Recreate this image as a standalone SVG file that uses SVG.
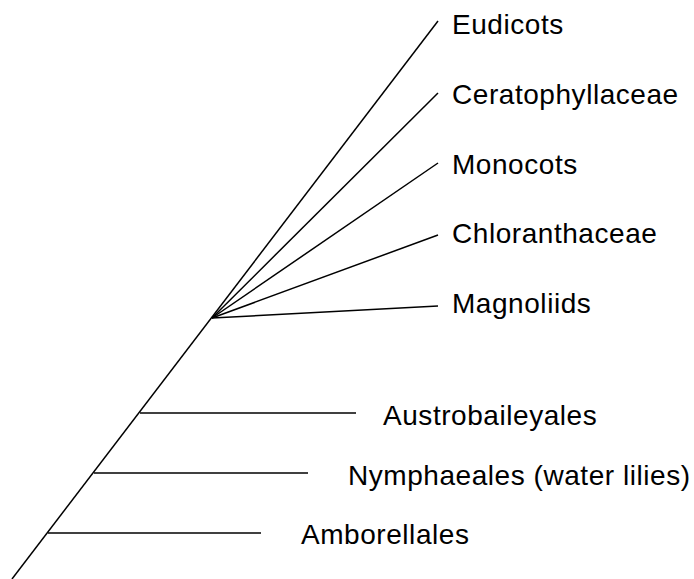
<svg xmlns="http://www.w3.org/2000/svg" width="694" height="579" viewBox="0 0 694 579">
<style>
.l{stroke:#000;stroke-width:1.5;fill:none}
.t{font-family:"Liberation Sans",Arial,sans-serif;font-size:28px;letter-spacing:0.55px;fill:#000}
</style>
<rect width="694" height="579" fill="#fff"/>
<g id="connectors">
<line class="l" x1="12" y1="579" x2="438" y2="21"/>
<line class="l" x1="212" y1="318" x2="438" y2="93"/>
<line class="l" x1="212" y1="318" x2="438" y2="163"/>
<line class="l" x1="212" y1="318" x2="438" y2="235"/>
<line class="l" x1="212" y1="318" x2="438" y2="306"/>
<line class="l" x1="140" y1="413" x2="356" y2="413"/>
<line class="l" x1="94" y1="473" x2="308" y2="473"/>
<line class="l" x1="48" y1="533" x2="261" y2="533"/>
</g>
<g id="eudicots"><text class="t" x="452" y="34">Eudicots</text></g>
<g id="ceratophyllaceae"><text class="t" x="452" y="104">Ceratophyllaceae</text></g>
<g id="monocots"><text class="t" x="452" y="174">Monocots</text></g>
<g id="chloranthaceae"><text class="t" x="452" y="243">Chloranthaceae</text></g>
<g id="magnoliids"><text class="t" x="452" y="313">Magnoliids</text></g>
<g id="austrobaileyales"><text class="t" x="383" y="425">Austrobaileyales</text></g>
<g id="nymphaeales"><text class="t" x="348" y="485">Nymphaeales (water lilies)</text></g>
<g id="amborellales"><text class="t" x="301" y="544">Amborellales</text></g>
</svg>
